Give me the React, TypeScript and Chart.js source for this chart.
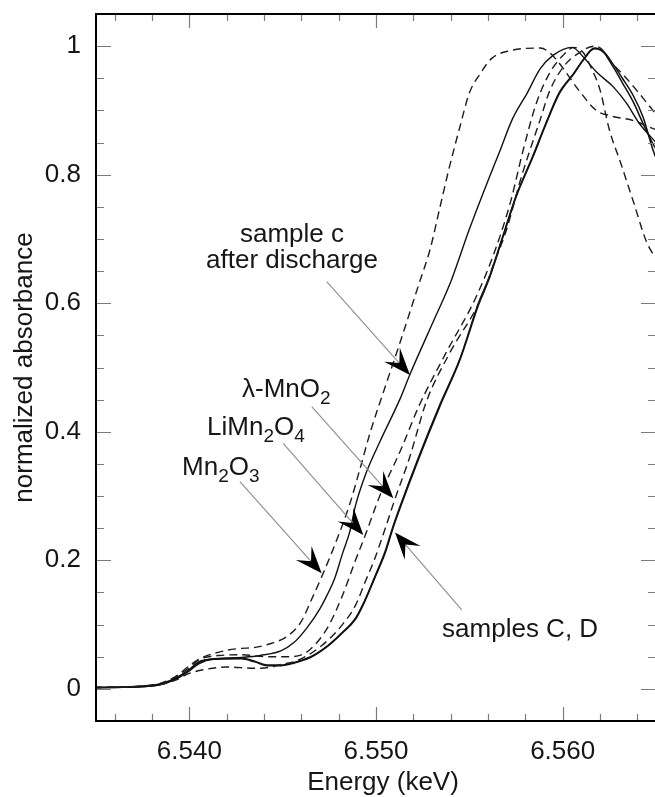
import React, { useEffect, useRef } from "react";
import { Chart, registerables } from "chart.js";

Chart.register(...registerables);

// ---------- axes ----------
const X_MIN = 6.535;
const X_MAX = 6.565;
const Y_MIN = -0.05;
const Y_MAX = 1.05;
const X_TICKS = [6.54, 6.55, 6.56];
const Y_TICKS = [0, 0.2, 0.4, 0.6, 0.8, 1];
const X_MINOR_STEP = 0.002;
const Y_MINOR_STEP = 0.05;
const X_TITLE = "Energy (keV)";
const Y_TITLE = "normalized absorbance";

// ---------- data (energy in keV, normalized absorbance) ----------
const mn2o3Energy = [6.5349, 6.5381, 6.5392, 6.54, 6.5405, 6.542, 6.5428, 6.5434, 6.5442, 6.5453, 6.546, 6.5465, 6.5471, 6.5479, 6.5486, 6.5491, 6.5497, 6.5504, 6.5513, 6.5523, 6.5529, 6.5534, 6.5539, 6.5545, 6.555, 6.5556, 6.5562, 6.5572, 6.5588, 6.5593, 6.5598, 6.5609, 6.5618, 6.5625, 6.5638, 6.565, 6.5656];
const mn2o3Abs = [0.002, 0.006, 0.018, 0.036, 0.046, 0.06, 0.063, 0.064, 0.069, 0.083, 0.105, 0.136, 0.175, 0.232, 0.288, 0.338, 0.4, 0.462, 0.54, 0.63, 0.684, 0.746, 0.808, 0.875, 0.927, 0.958, 0.981, 0.993, 0.997, 0.99, 0.974, 0.93, 0.9, 0.892, 0.884, 0.87, 0.865];

const sampleCDischargeEnergy = [6.5349, 6.5381, 6.5392, 6.54, 6.5405, 6.5416, 6.5428, 6.5438, 6.5449, 6.5456, 6.5463, 6.547, 6.5474, 6.5478, 6.5482, 6.5486, 6.5489, 6.5495, 6.5502, 6.5513, 6.5518, 6.5532, 6.554, 6.555, 6.5561, 6.5566, 6.5573, 6.5581, 6.5588, 6.5595, 6.5605, 6.5612, 6.5618, 6.5627, 6.5634, 6.5641, 6.565, 6.5656];
const sampleCDischargeAbs = [0.002, 0.006, 0.016, 0.03, 0.042, 0.047, 0.049, 0.052, 0.059, 0.072, 0.095, 0.125, 0.147, 0.173, 0.21, 0.245, 0.285, 0.338, 0.384, 0.452, 0.488, 0.58, 0.633, 0.715, 0.798, 0.834, 0.886, 0.927, 0.965, 0.986, 0.998, 0.98, 0.96, 0.937, 0.912, 0.88, 0.85, 0.83];

const limn2o4Energy = [6.5349, 6.5381, 6.5392, 6.54, 6.5405, 6.5416, 6.5428, 6.5442, 6.5454, 6.546, 6.5465, 6.5474, 6.5482, 6.5489, 6.5494, 6.5502, 6.5513, 6.5523, 6.5537, 6.5554, 6.5564, 6.5572, 6.5579, 6.5586, 6.5593, 6.56, 6.5606, 6.5611, 6.5615, 6.562, 6.5625, 6.5631, 6.5638, 6.5645, 6.565, 6.5656];
const limn2o4Abs = [0.002, 0.006, 0.018, 0.033, 0.045, 0.052, 0.053, 0.05, 0.05, 0.053, 0.062, 0.095, 0.145, 0.2, 0.237, 0.3, 0.37, 0.44, 0.52, 0.612, 0.684, 0.757, 0.84, 0.912, 0.958, 0.985, 0.998, 0.99, 0.968, 0.932, 0.87, 0.819, 0.757, 0.695, 0.67, 0.65];

const lambdaMnO2Energy = [6.5349, 6.5381, 6.5392, 6.54, 6.5408, 6.542, 6.5435, 6.5444, 6.5449, 6.5456, 6.5465, 6.5474, 6.5482, 6.5489, 6.5494, 6.5499, 6.5505, 6.551, 6.5518, 6.5527, 6.5539, 6.5557, 6.5562, 6.557, 6.5577, 6.5582, 6.5588, 6.5593, 6.5601, 6.5609, 6.5617, 6.5621, 6.5625, 6.5632, 6.564, 6.5647, 6.565, 6.5656];
const lambdaMnO2Abs = [0.002, 0.005, 0.013, 0.024, 0.03, 0.034, 0.032, 0.034, 0.038, 0.042, 0.055, 0.075, 0.1, 0.13, 0.165, 0.2, 0.25, 0.294, 0.36, 0.447, 0.52, 0.612, 0.653, 0.715, 0.788, 0.834, 0.886, 0.93, 0.97, 0.99, 1.0, 0.995, 0.978, 0.957, 0.93, 0.905, 0.895, 0.885];

const samplesCDEnergy = [6.5349, 6.5381, 6.5392, 6.54, 6.5405, 6.5413, 6.5428, 6.5435, 6.5442, 6.5449, 6.5456, 6.5465, 6.5474, 6.5482, 6.5489, 6.5494, 6.5499, 6.5505, 6.5509, 6.5513, 6.5523, 6.5534, 6.5545, 6.5555, 6.5561, 6.5568, 6.5575, 6.5584, 6.5591, 6.5598, 6.5606, 6.5611, 6.5617, 6.5622, 6.5627, 6.5632, 6.5638, 6.5643, 6.565, 6.5656];
const sampleCAbs = [0.002, 0.005, 0.015, 0.03, 0.041, 0.047, 0.048, 0.043, 0.037, 0.037, 0.041, 0.05, 0.067, 0.088, 0.11, 0.138, 0.172, 0.215, 0.252, 0.285, 0.362, 0.441, 0.514, 0.601, 0.643, 0.705, 0.767, 0.829, 0.88, 0.927, 0.958, 0.979, 0.997, 0.99, 0.968, 0.943, 0.912, 0.88, 0.84, 0.82];
const sampleDAbs = [0.002, 0.005, 0.014, 0.028, 0.039, 0.046, 0.047, 0.042, 0.036, 0.036, 0.04, 0.049, 0.066, 0.087, 0.108, 0.136, 0.17, 0.212, 0.249, 0.282, 0.359, 0.438, 0.512, 0.598, 0.641, 0.703, 0.765, 0.827, 0.878, 0.925, 0.957, 0.978, 0.996, 0.991, 0.972, 0.95, 0.922, 0.89, 0.826, 0.81];

// ---------- annotations (data coordinates) ----------
const arrowFromX = [6.54736, 6.54656, 6.54503, 6.54271, 6.55459];
const arrowFromY = [0.6336, 0.4391, 0.3821, 0.3224, 0.1228];
const arrowToX = [6.55182, 6.55093, 6.54932, 6.54709, 6.55102];
const arrowToY = [0.4884, 0.2966, 0.2395, 0.1799, 0.2433];

type Seg = [string, boolean];
const labelSegments: Seg[][] = [
  [["sample c", false]],
  [["after discharge", false]],
  [["λ-MnO", false], ["2", true]],
  [["LiMn", false], ["2", true], ["O", false], ["4", true]],
  [["Mn", false], ["2", true], ["O", false], ["3", true]],
  [["samples C, D", false]],
];
const labelX = [6.5455, 6.5455, 6.54282, 6.54095, 6.53961, 6.55354];
const labelY = [0.6954, 0.6549, 0.4542, 0.3951, 0.3329, 0.0808];
const labelAlign = ["center", "center", "left", "left", "left", "left"];

const FAMILY = '"Liberation Sans", Arial, Helvetica, sans-serif';
const MAIN_FONT = `26px ${FAMILY}`;
const SUB_FONT = `19px ${FAMILY}`;
const TEXT_COLOR = "#161616";

const toPoints = (xs: number[], ys: number[]) => xs.map((x, i) => ({ x, y: ys[i] }));

const annotationPlugin = {
  id: "frameAndNotes",
  afterDatasetsDraw(chart: any) {
    const { ctx, chartArea: a, scales } = chart;
    const xs = scales.x;
    const ys = scales.y;
    ctx.save();

    // inward ticks on all four sides
    ctx.strokeStyle = "#7c7c7c";
    ctx.lineWidth = 1.2;
    ctx.beginPath();
    const k0 = Math.ceil(X_MIN / X_MINOR_STEP - 1e-6);
    const k1 = Math.floor(X_MAX / X_MINOR_STEP + 1e-6);
    for (let k = k0; k <= k1; k++) {
      const px = Math.round(xs.getPixelForValue(k * X_MINOR_STEP)) + 0.5;
      if (px <= a.left + 1 || px >= a.right - 1) continue;
      const len = k % 5 === 0 ? 14 : 7;
      ctx.moveTo(px, a.bottom);
      ctx.lineTo(px, a.bottom - len);
      ctx.moveTo(px, a.top);
      ctx.lineTo(px, a.top + len);
    }
    const j0 = Math.ceil(Y_MIN / Y_MINOR_STEP - 1e-6);
    const j1 = Math.floor(Y_MAX / Y_MINOR_STEP + 1e-6);
    for (let j = j0; j <= j1; j++) {
      const py = Math.round(ys.getPixelForValue(j * Y_MINOR_STEP)) + 0.5;
      if (py <= a.top + 1 || py >= a.bottom - 1) continue;
      const len = j % 4 === 0 ? 15 : 8;
      ctx.moveTo(a.left, py);
      ctx.lineTo(a.left + len, py);
      ctx.moveTo(a.right, py);
      ctx.lineTo(a.right - len, py);
    }
    ctx.stroke();

    // frame
    ctx.strokeStyle = "#000";
    ctx.lineWidth = 2;
    ctx.strokeRect(a.left, a.top, a.right - a.left, a.bottom - a.top);

    // arrows
    for (let i = 0; i < arrowFromX.length; i++) {
      const x1 = xs.getPixelForValue(arrowFromX[i]);
      const y1 = ys.getPixelForValue(arrowFromY[i]);
      const x2 = xs.getPixelForValue(arrowToX[i]);
      const y2 = ys.getPixelForValue(arrowToY[i]);
      const dx = x2 - x1;
      const dy = y2 - y1;
      const L = Math.hypot(dx, dy);
      const ux = dx / L;
      const uy = dy / L;
      const nx = -uy;
      const ny = ux;
      const headLen = 27;
      const half = 10.5;
      const notch = 16;
      ctx.strokeStyle = "#8c8c8c";
      ctx.lineWidth = 1.1;
      ctx.beginPath();
      ctx.moveTo(x1, y1);
      ctx.lineTo(x2 - ux * notch, y2 - uy * notch);
      ctx.stroke();
      ctx.fillStyle = "#000";
      ctx.beginPath();
      ctx.moveTo(x2, y2);
      ctx.lineTo(x2 - ux * headLen + nx * half, y2 - uy * headLen + ny * half);
      ctx.lineTo(x2 - ux * notch, y2 - uy * notch);
      ctx.lineTo(x2 - ux * headLen - nx * half, y2 - uy * headLen - ny * half);
      ctx.closePath();
      ctx.fill();
    }

    // labels with subscripts
    ctx.fillStyle = TEXT_COLOR;
    ctx.textBaseline = "alphabetic";
    ctx.textAlign = "left";
    for (let i = 0; i < labelSegments.length; i++) {
      const segs = labelSegments[i];
      let total = 0;
      const widths = segs.map(([t, sub]) => {
        ctx.font = sub ? SUB_FONT : MAIN_FONT;
        const w = ctx.measureText(t).width;
        total += w;
        return w;
      });
      let x = xs.getPixelForValue(labelX[i]);
      const y = ys.getPixelForValue(labelY[i]);
      if (labelAlign[i] === "center") x -= total / 2;
      segs.forEach(([t, sub], s) => {
        ctx.font = sub ? SUB_FONT : MAIN_FONT;
        ctx.fillText(t, x, sub ? y + 7 : y);
        x += widths[s];
      });
    }

    // x-axis title
    ctx.font = MAIN_FONT;
    ctx.textAlign = "center";
    ctx.fillText(X_TITLE, (a.left + a.right) / 2 + 7, a.bottom + 69);
    ctx.restore();
  },
};

export default function App() {
  const ref = useRef<HTMLCanvasElement>(null);

  useEffect(() => {
    const canvas = ref.current;
    if (!canvas) return;
    Chart.defaults.font.family = FAMILY;

    const solid = { borderDash: [] as number[], borderWidth: 1.4, borderColor: "#111" };
    const dashed = { borderDash: [8, 5], borderWidth: 1.4, borderColor: "#1c1c1c" };
    const common = { pointRadius: 0, fill: false, cubicInterpolationMode: "monotone" as const };

    const chart = new Chart(canvas, {
      type: "line",
      data: {
        datasets: [
          { label: "Mn2O3", data: toPoints(mn2o3Energy, mn2o3Abs), ...common, ...dashed },
          { label: "LiMn2O4", data: toPoints(limn2o4Energy, limn2o4Abs), ...common, ...dashed },
          { label: "λ-MnO2", data: toPoints(lambdaMnO2Energy, lambdaMnO2Abs), ...common, ...dashed },
          { label: "sample c after discharge", data: toPoints(sampleCDischargeEnergy, sampleCDischargeAbs), ...common, ...solid },
          { label: "sample C", data: toPoints(samplesCDEnergy, sampleCAbs), ...common, ...solid, borderWidth: 1.5 },
          { label: "sample D", data: toPoints(samplesCDEnergy, sampleDAbs), ...common, ...solid, borderWidth: 1.5 },
        ],
      },
      options: {
        responsive: false,
        maintainAspectRatio: false,
        animation: false,
        devicePixelRatio: 1,
        layout: { padding: { top: 14, right: 4, left: 0, bottom: 0 } },
        plugins: { legend: { display: false }, tooltip: { enabled: false } },
        scales: {
          x: {
            type: "linear",
            min: X_MIN,
            max: X_MAX,
            afterBuildTicks: (s: any) => {
              s.ticks = X_TICKS.map((v) => ({ value: v }));
            },
            afterFit: (s: any) => {
              s.height = 76;
              s.paddingLeft = 0;
              s.paddingRight = 0;
            },
            grid: { display: false, drawTicks: false },
            border: { display: false },
            ticks: {
              padding: 15,
              autoSkip: false,
              maxRotation: 0,
              color: TEXT_COLOR,
              font: { size: 26, family: FAMILY },
              callback: (v: any) => Number(v).toFixed(3),
            },
          },
          y: {
            type: "linear",
            min: Y_MIN,
            max: Y_MAX,
            afterBuildTicks: (s: any) => {
              s.ticks = Y_TICKS.map((v) => ({ value: v }));
            },
            afterFit: (s: any) => {
              s.width = 96;
              s.paddingTop = 0;
              s.paddingBottom = 0;
            },
            grid: { display: false, drawTicks: false },
            border: { display: false },
            ticks: {
              padding: 15,
              color: TEXT_COLOR,
              font: { size: 26, family: FAMILY },
              callback: (v: any) => String(Math.round(Number(v) * 10) / 10),
            },
            title: {
              display: true,
              text: Y_TITLE,
              color: TEXT_COLOR,
              font: { size: 26, family: FAMILY },
              padding: { top: 9, bottom: 0 },
            },
          },
        },
      },
      plugins: [annotationPlugin],
    });
    return () => chart.destroy();
  }, []);

  return (
    <div
      style={{
        position: "absolute",
        left: 0,
        top: 0,
        width: 655,
        height: 797,
        overflow: "hidden",
        background: "#fff",
      }}
    >
      <canvas ref={ref} width={660} height={797} style={{ display: "block", width: 660, height: 797 }} />
    </div>
  );
}
